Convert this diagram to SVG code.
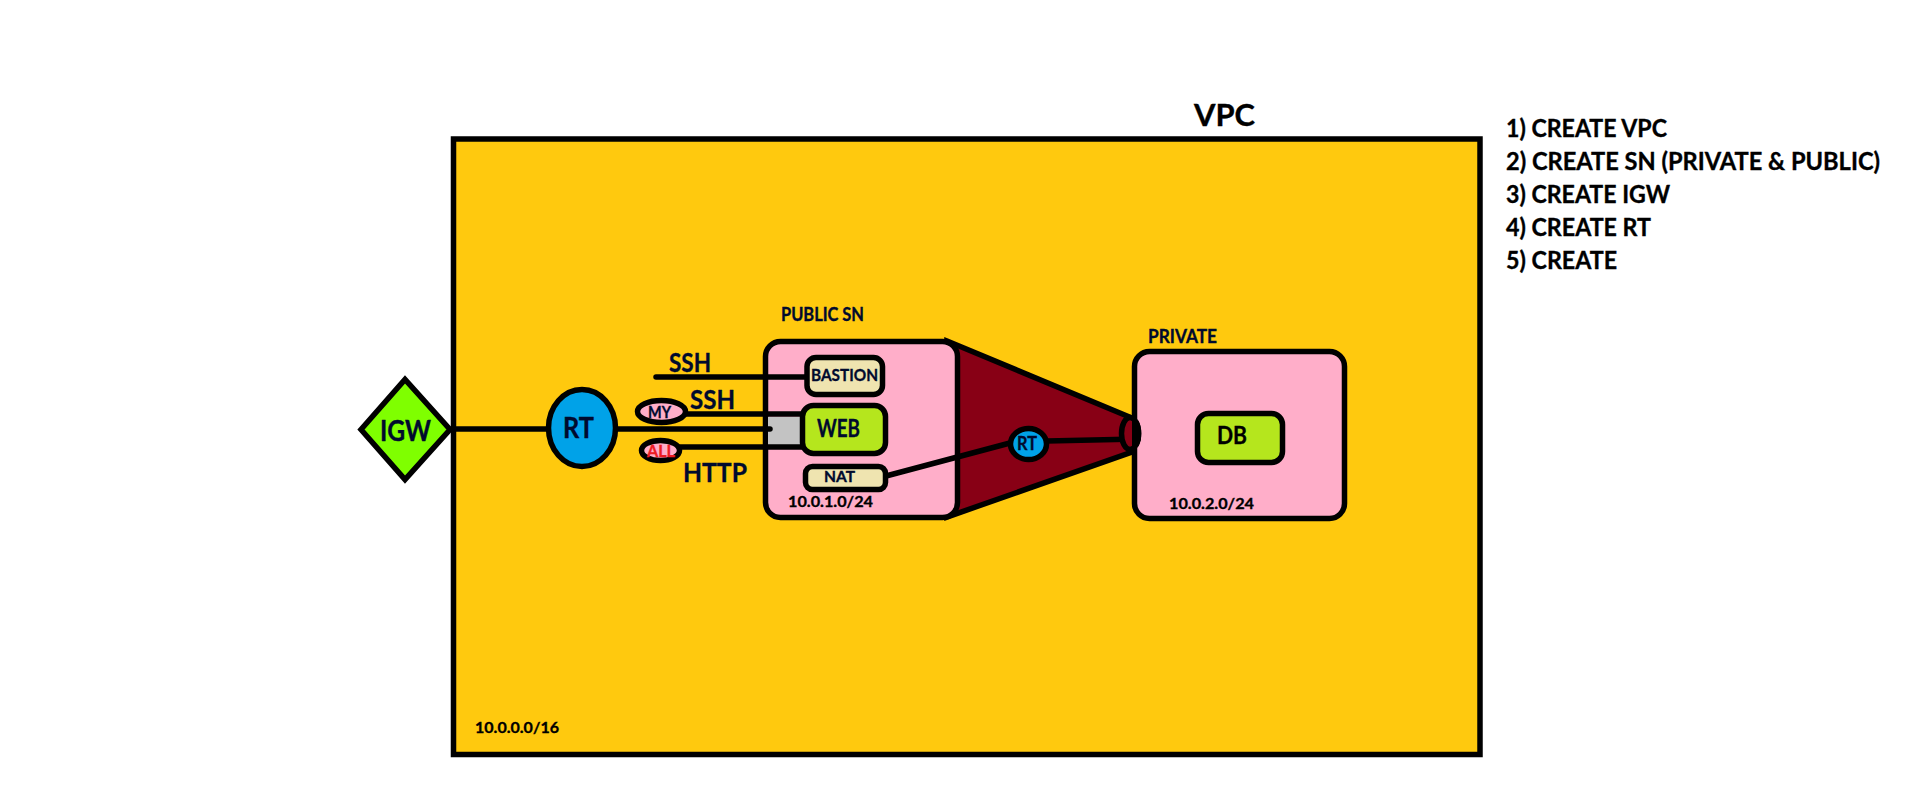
<svg xmlns="http://www.w3.org/2000/svg" width="1914" height="808" viewBox="0 0 1914 808">
<style>
.s{stroke:#000;stroke-width:5.5}
.sn{fill:#FFAEC9}
.tan{fill:#EFE4B0}
.lime{fill:#B5E61D}
.blue{fill:#00A2E8}
.wedge{fill:#880015}
line,polyline{fill:none;stroke:#000;stroke-width:5.5;stroke-linecap:round}
text{font-family:"Lato","Carlito","Open Sans",sans-serif;font-weight:700;fill:#000;stroke:#000;stroke-width:.35}
.navy{fill:#000a2e;stroke:#000a2e}
</style>
<rect width="1914" height="808" fill="#fff"/>
<g id="vpc">
<rect x="453.5" y="139" width="1026.5" height="615.5" fill="#FFC90E" class="s"/>
<text x="1194" y="126" font-size="31" textLength="61" lengthAdjust="spacingAndGlyphs">VPC</text>
<text x="475" y="733" font-size="16" textLength="84" lengthAdjust="spacingAndGlyphs">10.0.0.0/16</text>
</g>
<g id="steps">
<text x="1506" y="137" font-size="25" textLength="161" lengthAdjust="spacingAndGlyphs">1) CREATE VPC</text>
<text x="1506" y="169.5" font-size="25" textLength="374" lengthAdjust="spacingAndGlyphs">2) CREATE SN (PRIVATE &amp; PUBLIC)</text>
<text x="1506" y="202.5" font-size="25" textLength="164" lengthAdjust="spacingAndGlyphs">3) CREATE IGW</text>
<text x="1506" y="236" font-size="25" textLength="145" lengthAdjust="spacingAndGlyphs">4) CREATE RT</text>
<text x="1506" y="269" font-size="25" textLength="111" lengthAdjust="spacingAndGlyphs">5) CREATE</text>
</g>
<g id="peering">
<polygon points="947,341 1132,418 1132,452 947,517" class="wedge s"/>
</g>
<g id="public-sn">
<rect x="765.5" y="341.5" width="192" height="176" rx="15" class="sn s"/>
<rect x="768" y="417" width="32" height="28" fill="#C3C3C3"/>
<text x="781" y="320.5" font-size="18" class="navy" textLength="83" lengthAdjust="spacingAndGlyphs">PUBLIC SN</text>
<text x="788" y="507" font-size="16" textLength="85" lengthAdjust="spacingAndGlyphs">10.0.1.0/24</text>
</g>
<g id="private-sn">
<rect x="1134.5" y="351.5" width="210" height="167" rx="15" class="sn s"/>
<text x="1148" y="343" font-size="18" class="navy" textLength="69" lengthAdjust="spacingAndGlyphs">PRIVATE</text>
<text x="1169" y="509" font-size="16" textLength="85" lengthAdjust="spacingAndGlyphs">10.0.2.0/24</text>
</g>
<g id="connectors">
<line x1="452" y1="429" x2="548" y2="429"/>
<line x1="616" y1="429" x2="770" y2="429"/>
<line x1="656" y1="377" x2="806" y2="377"/>
<line x1="686" y1="414" x2="802" y2="414"/>
<line x1="680" y1="447" x2="802" y2="447"/>
<line x1="886" y1="476" x2="1010" y2="443"/>
<line x1="1047" y1="441" x2="1138" y2="439"/>
</g>
<g id="igw">
<polygon points="361,429.5 405,379.5 450,429.5 405,479.5" fill="#7FFF00" class="s"/>
<text x="380" y="441" font-size="28" class="navy" textLength="51" lengthAdjust="spacingAndGlyphs">IGW</text>
</g>
<g id="rt-main">
<ellipse cx="582" cy="428" rx="33.5" ry="38.5" class="blue s"/>
<text x="563" y="437.5" font-size="28" class="navy" textLength="31" lengthAdjust="spacingAndGlyphs">RT</text>
</g>
<g id="my">
<ellipse cx="661.5" cy="411.5" rx="24" ry="11" class="sn s"/>
<text x="648" y="418" font-size="17" class="navy" textLength="23" lengthAdjust="spacingAndGlyphs">MY</text>
</g>
<g id="all">
<ellipse cx="660.5" cy="450.5" rx="19" ry="10" class="sn s"/>
<text x="647" y="457" font-size="17" style="fill:#ED1C24;stroke:#ED1C24" textLength="28" lengthAdjust="spacingAndGlyphs">ALL</text>
</g>
<g id="labels">
<text x="669" y="372" font-size="26" class="navy" textLength="42" lengthAdjust="spacingAndGlyphs">SSH</text>
<text x="690" y="409" font-size="27" class="navy" textLength="45" lengthAdjust="spacingAndGlyphs">SSH</text>
<text x="683" y="482" font-size="27" class="navy" textLength="64" lengthAdjust="spacingAndGlyphs">HTTP</text>
</g>
<g id="bastion">
<rect x="807" y="357.5" width="75.5" height="37" rx="9" class="tan s"/>
<text x="811" y="381" font-size="17" class="navy" textLength="67" lengthAdjust="spacingAndGlyphs">BASTION</text>
</g>
<g id="web">
<rect x="802.5" y="405.5" width="83" height="48" rx="11" class="lime s"/>
<text x="817" y="437" font-size="24" class="navy" textLength="43" lengthAdjust="spacingAndGlyphs">WEB</text>
</g>
<g id="nat">
<rect x="805.5" y="466.5" width="80" height="23" rx="7" class="tan s"/>
<text x="824" y="482" font-size="16" class="navy" textLength="31" lengthAdjust="spacingAndGlyphs">NAT</text>
</g>
<g id="rt-small">
<ellipse cx="1028.5" cy="444" rx="18" ry="15.5" class="blue s"/>
<text x="1017" y="450" font-size="18" class="navy" textLength="20" lengthAdjust="spacingAndGlyphs">RT</text>
</g>
<g id="db">
<rect x="1197.5" y="413.5" width="85" height="49" rx="11" class="lime s"/>
<text x="1217" y="444" font-size="25" textLength="30" lengthAdjust="spacingAndGlyphs">DB</text>
</g>
<g id="link-ellipse">
<path d="M1132,418A8.5,16 0 0 0 1132,450Z" class="wedge"/>
<ellipse cx="1130" cy="433.5" rx="8.5" ry="16" fill="none" class="s"/>
<path d="M1136,422A6,14 0 0 1 1136,445" fill="none" class="s"/>
</g>
</svg>
